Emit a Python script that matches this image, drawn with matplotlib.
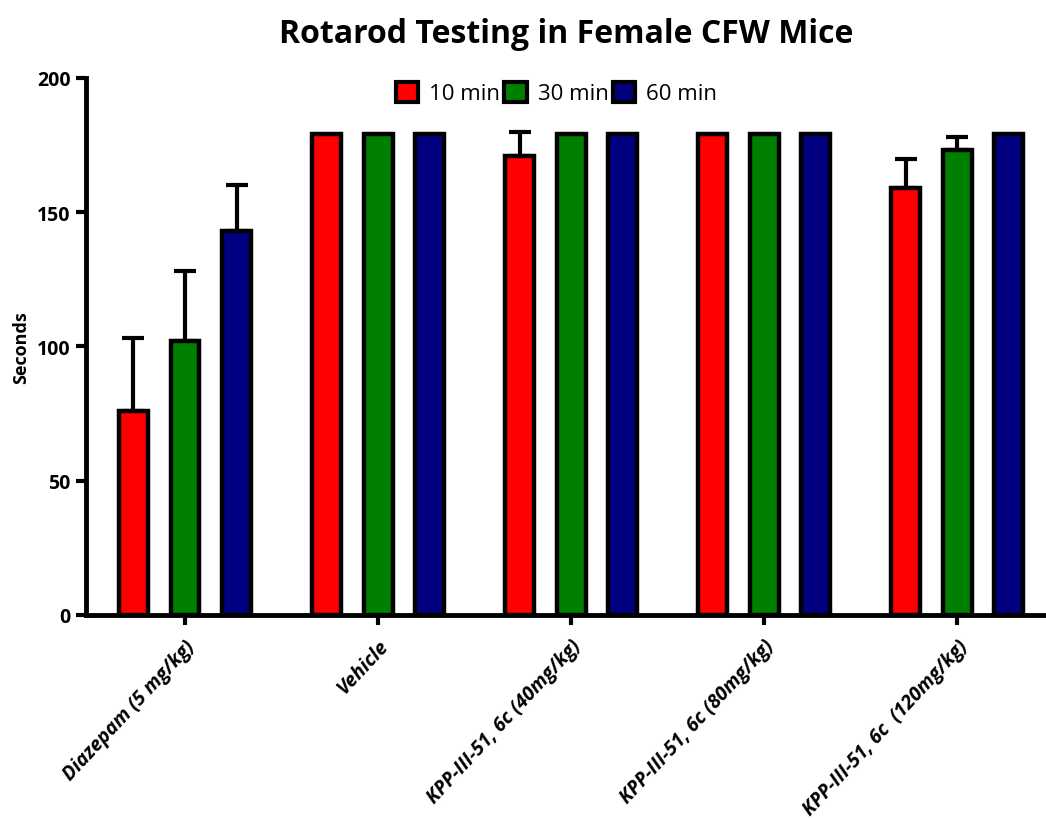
import numpy as np
import matplotlib
matplotlib.use("Agg")
import matplotlib.pyplot as plt

groups = ["Diazepam (5 mg/kg)", "Vehicle", "KPP-III-51, 6c (40mg/kg)",
          "KPP-III-51, 6c (80mg/kg)", "KPP-III-51, 6c  (120mg/kg)"]
series = ["10 min", "30 min", "60 min"]
colors = ["#ff0000", "#008000", "#000080"]
means_10 = [76, 179, 171, 179, 159]
means_30 = [102, 179, 179, 179, 173]
means_60 = [143, 179, 179, 179, 179]
sem_10 = [27, 0, 9, 0, 11]
sem_30 = [26, 0, 0, 0, 5]
sem_60 = [17, 0, 0, 0, 0]

means = [means_10, means_30, means_60]
sems = [sem_10, sem_30, sem_60]

plt.rcParams['font.family'] = ['Open Sans', 'DejaVu Sans']

fig = plt.figure(figsize=(10.46, 8.2), dpi=100)
ax = fig.add_axes([0.0822, 0.2488, 0.9178, 0.6549])

x = np.arange(len(groups))
step = 0.267
width = 0.15
for i in range(3):
    pos = x + (i - 1) * step
    ax.bar(pos, means[i], width, color=colors[i], edgecolor="black",
           linewidth=3.2, label=series[i], zorder=3)
    err = np.array(sems[i])
    mask = err > 0
    ax.errorbar(pos[mask], np.array(means[i])[mask], yerr=[np.zeros(mask.sum()), err[mask]],
                fmt="none", ecolor="black", elinewidth=3, capsize=8, capthick=3, zorder=2)

ax.set_xlim(-0.513, 4.46)
ax.set_ylim(0, 200)
ax.set_yticks([0, 50, 100, 150, 200])
ax.set_xticks(x)
ax.set_xticklabels(groups, rotation=47, ha="right", rotation_mode="anchor",
                   fontsize=14, fontweight="bold", fontstyle="italic")
for lab in ax.get_yticklabels():
    lab.set_fontweight("bold")
    lab.set_fontsize(14)
ax.tick_params(axis="both", width=3, length=7, direction="out")
ax.tick_params(axis="x", pad=8)
ax.tick_params(axis="y", pad=4)
ax.spines["top"].set_visible(False)
ax.spines["right"].set_visible(False)
ax.spines["left"].set_linewidth(3.5)
ax.spines["bottom"].set_linewidth(3.5)

ax.set_ylabel("Seconds", fontsize=13, fontweight="bold", labelpad=5)
ax.set_title("Rotarod Testing in Female CFW Mice", fontsize=23, fontweight="bold", pad=26)

leg = ax.legend(loc="upper center", bbox_to_anchor=(0.49, 1.03), ncol=3, frameon=False,
                fontsize=16, handlelength=1.0, handleheight=1.0, handletextpad=0.5,
                columnspacing=0.2)
for h in leg.legend_handles:
    h.set_linewidth(3)

fig.savefig("out.png", dpi=100)
